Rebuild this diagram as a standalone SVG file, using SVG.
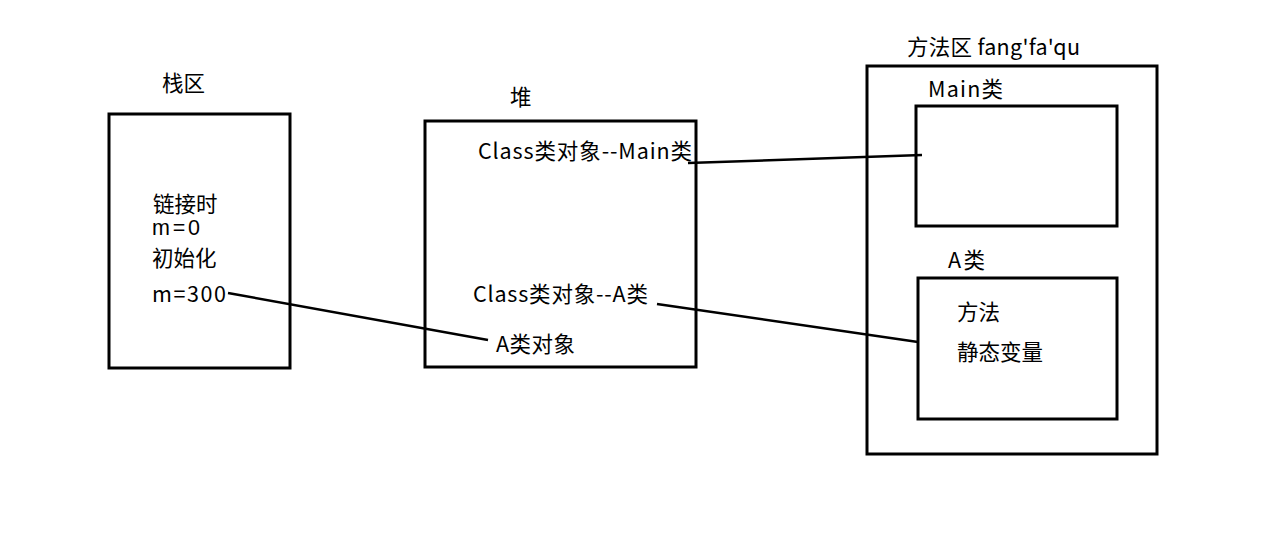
<svg xmlns="http://www.w3.org/2000/svg" width="1287" height="560" viewBox="0 0 1287 560">
<style>
.box{fill:none;stroke:#000;stroke-width:3}
.ln{fill:none;stroke:#000;stroke-width:2.5}
text{font-family:"Noto Sans CJK SC","Noto Sans",sans-serif;font-size:21.5px;fill:#000}
.lat{font-family:"Liberation Sans","Noto Sans",sans-serif}
</style>
<rect width="1287" height="560" fill="#fff"/>
<g id="stack">
<rect class="box" x="109" y="114" width="181" height="254"/>
<text x="162" y="91">栈区</text>
<text x="153" y="212">链接时</text>
<text class="lat" x="152" y="235" textLength="48">m=0</text>
<text x="152" y="266">初始化</text>
<text x="152" y="302" textLength="74">m=300</text>
</g>
<g id="heap">
<rect class="box" x="425" y="121" width="271" height="246"/>
<text x="510" y="105">堆</text>
<text x="478" y="159" textLength="214">Class类对象--Main类</text>
<text x="473" y="302" textLength="175">Class类对象--A类</text>
<text x="496" y="352" textLength="79">A类对象</text>
</g>
<g id="method-area">
<rect class="box" x="867" y="66" width="290" height="388"/>
<text x="907" y="55" textLength="173">方法区 fang'fa'qu</text>
</g>
<g id="main-class">
<rect class="box" x="916" y="106" width="201" height="120"/>
<text x="928" y="97" textLength="75">Main类</text>
</g>
<g id="a-class">
<rect class="box" x="918" y="278" width="199" height="141"/>
<text x="948" y="268" textLength="37">A类</text>
<text x="957" y="320">方法</text>
<text x="957" y="360">静态变量</text>
</g>
<g id="connectors">
<line class="ln" x1="688" y1="163" x2="922" y2="155"/>
<line class="ln" x1="657" y1="304" x2="918" y2="342"/>
<line class="ln" x1="228" y1="293" x2="488" y2="340"/>
</g>
</svg>
